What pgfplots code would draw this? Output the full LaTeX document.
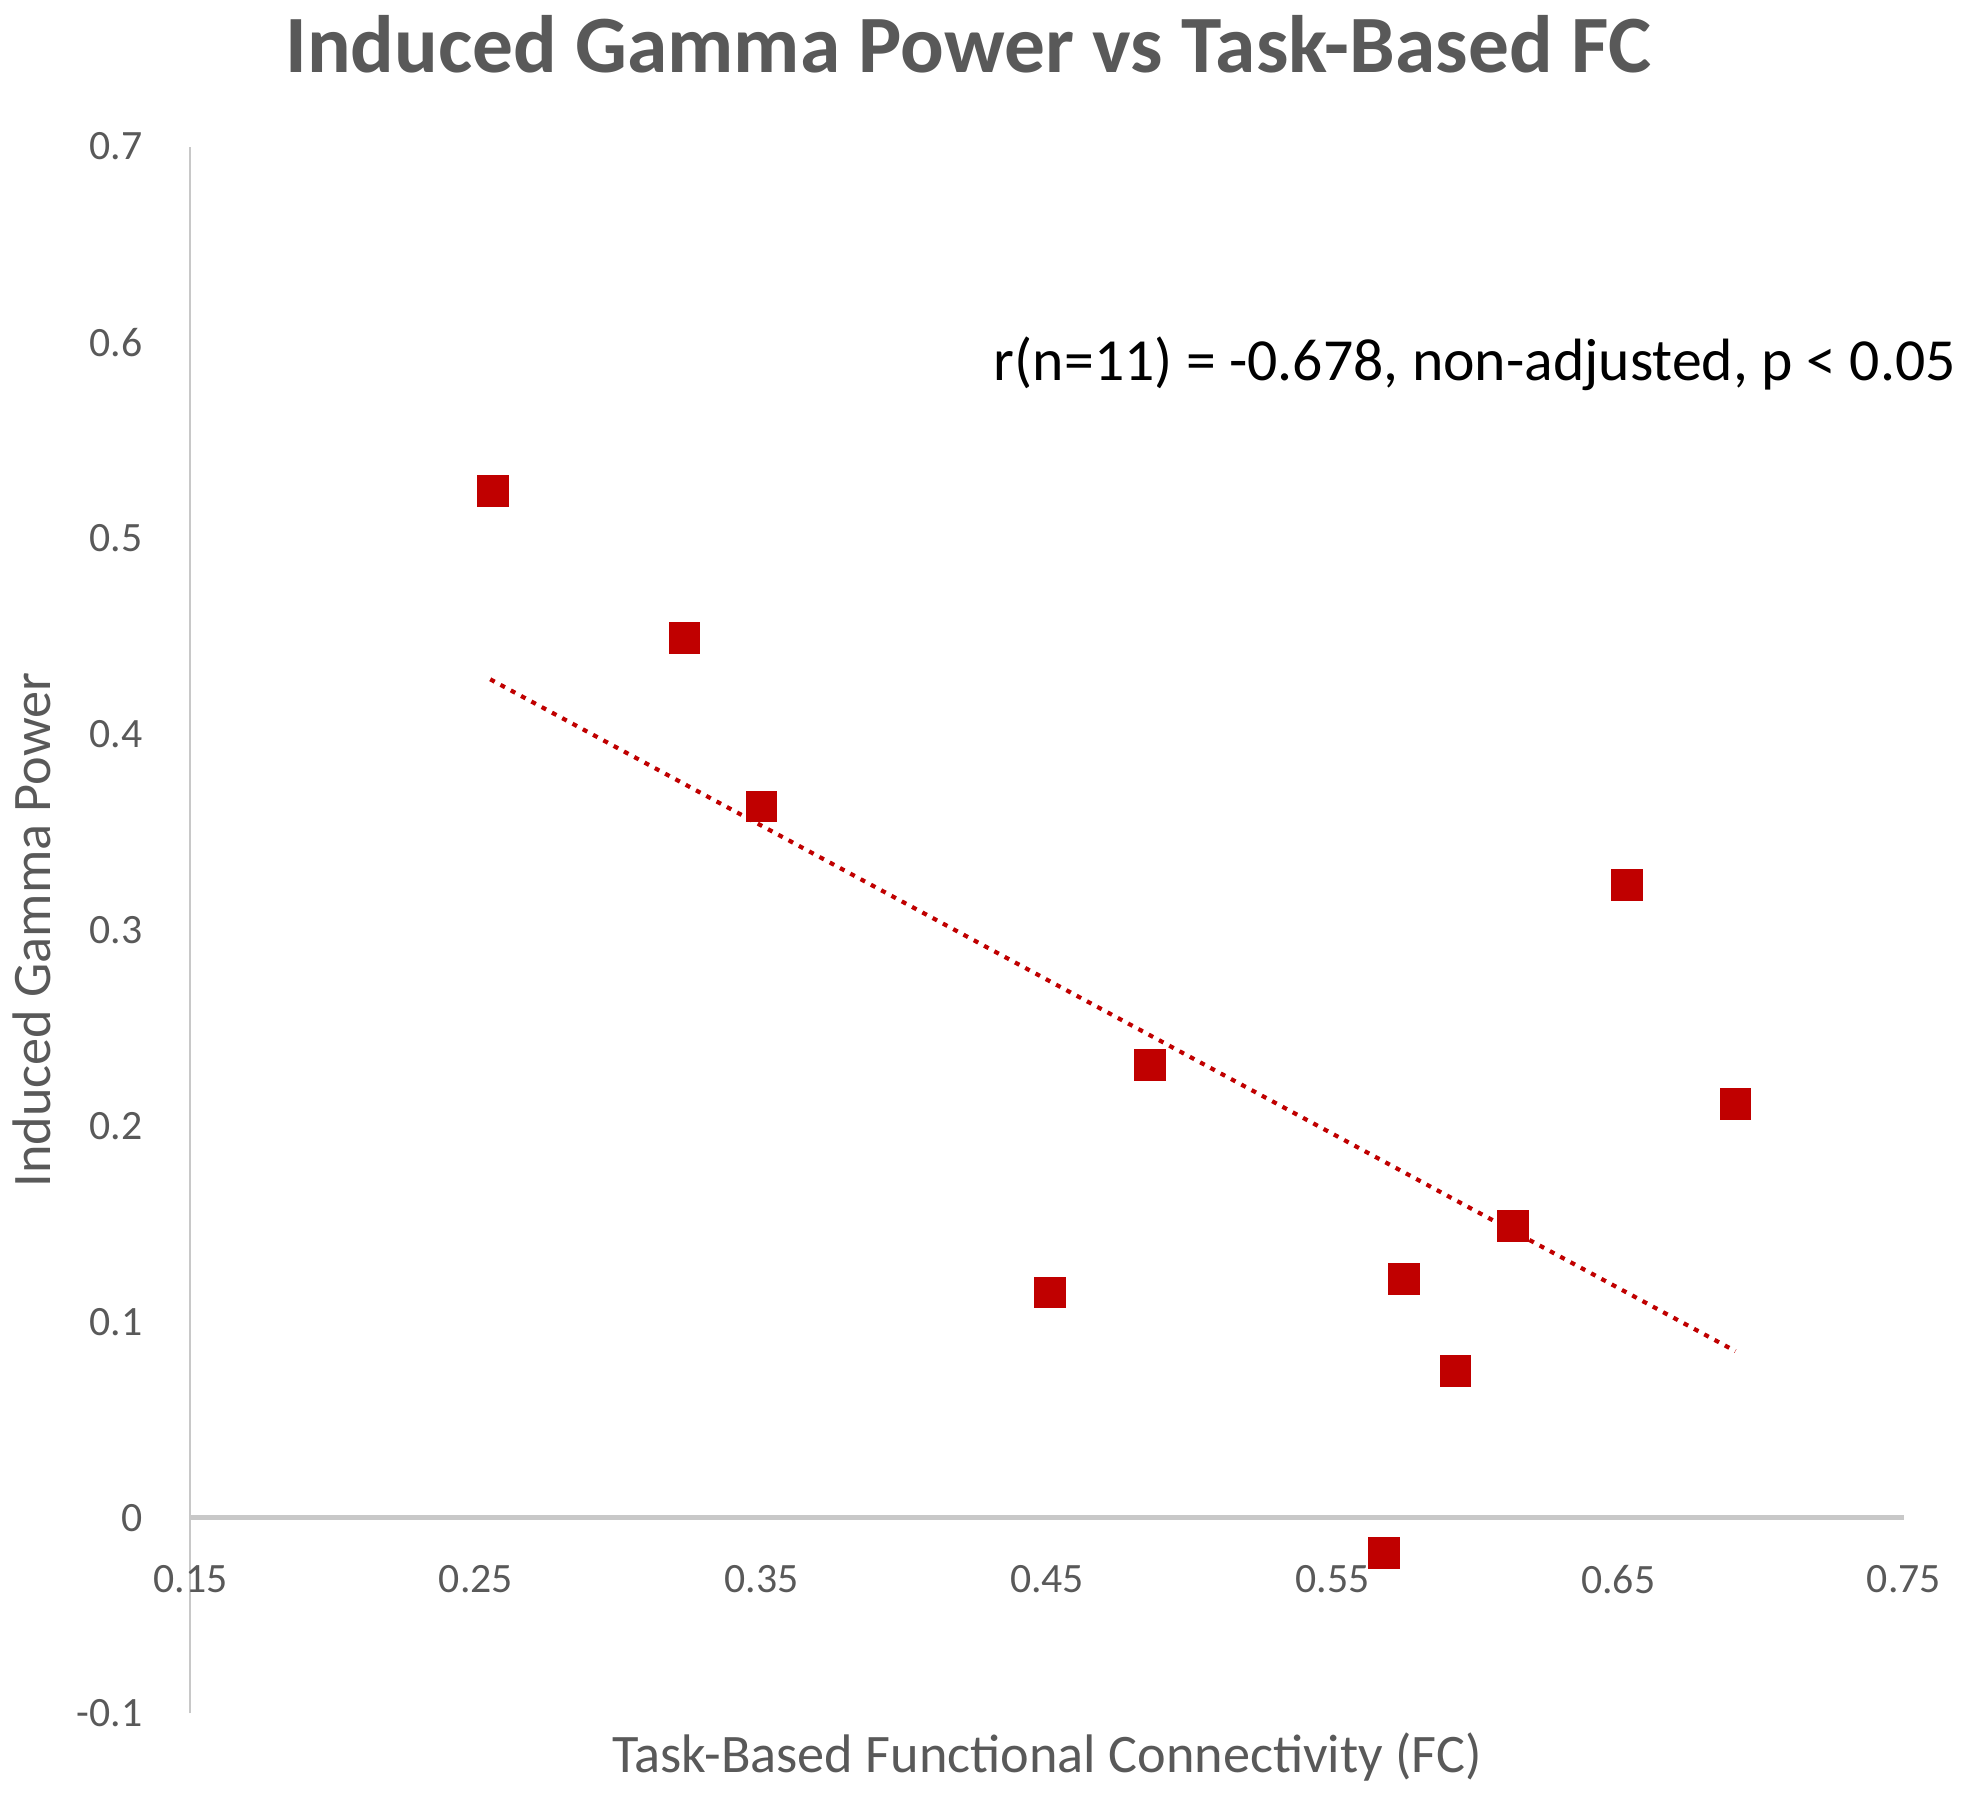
\documentclass[border=0pt]{standalone}
\usepackage{pgfplots}
\pgfplotsset{compat=1.18}
\usepackage{fontspec}
\setmainfont{Carlito}
\definecolor{txtgray}{HTML}{595959}
\definecolor{axgray}{HTML}{C8C8C8}
\definecolor{dred}{HTML}{C00000}
\begin{document}
\begin{tikzpicture}
\path[use as bounding box] (-45.6pt,-19.8pt) rectangle (424.8pt,410.4pt);
\begin{axis}[
  scale only axis, width=410.4pt, height=375.3pt,
  at={(0,0)}, anchor=south west,
  xmin=0.15, xmax=0.75, ymin=-0.1, ymax=0.7,
  axis x line*=middle, axis y line*=left,
  axis line style={-},
  x axis line style={draw=axgray, line width=1.2pt},
  y axis line style={draw=axgray, line width=0.5pt},
  hide obscured x ticks=false, hide obscured y ticks=false,
  xtick={0.15,0.25,0.35,0.45,0.55,0.65,0.75},
  xticklabels={0.15,0.25,0.35,0.45,0.55,0.65,0.75},
  ytick={-0.1,0,0.1,0.2,0.3,0.4,0.5,0.6,0.7},
  yticklabels={-0.1,0,0.1,0.2,0.3,0.4,0.5,0.6,0.7},
  major tick length=0pt,
  tick label style={font=\fontsize{10}{12}\selectfont, text=txtgray},
  xticklabel style={yshift=-8pt},
  yticklabel style={xshift=-8pt},
  clip=false,
]
\addplot[only marks, mark=square*, mark size=3.6pt, color=dred] coordinates {
(0.256,0.524)
(0.323,0.449)
(0.350,0.363)
(0.451,0.115)
(0.486,0.231)
(0.568,-0.018)
(0.575,0.122)
(0.593,0.075)
(0.613,0.149)
(0.653,0.323)
(0.691,0.211)
};
\addplot[color=dred, line width=1pt, dash pattern=on 1.2pt off 1.6pt] coordinates {
(0.255,0.428) (0.691,0.085)
};
\node[anchor=center, font=\fontsize{19.5}{23}\selectfont\bfseries, text=txtgray] at (rel axis cs:0.454,1.0) [yshift=24.6pt] {Induced Gamma Power vs Task-Based FC};
\node[anchor=west, inner sep=0pt, font=\fontsize{14.3}{17}\selectfont, text=black] at (axis cs:0.4311,0.589) {r(n=11) = -0.678, non-adjusted, p < 0.05};
\node[anchor=center, font=\fontsize{13}{15}\selectfont, text=txtgray] at (rel axis cs:0.5,0) [yshift=-10.5pt] {Task-Based Functional Connectivity (FC)};
\node[xshift=-38pt, anchor=center, rotate=90, font=\fontsize{13}{15}\selectfont, text=txtgray] at (rel axis cs:0,0.5) {Induced Gamma Power};
\end{axis}
\end{tikzpicture}
\end{document}
